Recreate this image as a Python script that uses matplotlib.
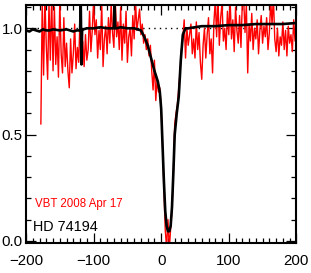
import numpy as np
import matplotlib
matplotlib.use("Agg")
import matplotlib.pyplot as plt
from matplotlib.ticker import MultipleLocator

# observed spectrum (red), sampled every 2 km/s from -178 to 200
obs_vel = np.arange(-178, 201, 2)
obs_flux = [
    0.55, 1.13, 0.78, 1.14, 0.92, 0.76, 1.12, 0.85, 1.15, 0.80,
    1.10, 0.83, 0.96, 0.77, 1.13, 0.88, 0.79, 1.05, 0.82, 0.93,
    0.80, 0.72, 0.95, 0.79, 0.88, 1.02, 0.81, 0.91, 0.84, 1.06,
    0.86, 0.94, 0.82, 0.97, 0.85, 0.90, 1.08, 0.89, 0.99, 1.13,
    0.97, 1.04, 0.86, 0.99, 0.90, 1.12, 0.82, 0.95, 1.01, 0.88,
    1.05, 0.93, 1.12, 0.98, 0.91, 1.14, 0.96, 1.03, 0.90, 1.10,
    0.85, 1.02, 0.93, 1.08, 0.84, 0.96, 1.00, 0.87, 1.06, 0.95,
    1.13, 0.99, 1.04, 1.09, 0.97, 1.02, 0.93, 0.97, 0.90, 0.95,
    0.87, 0.92, 0.80, 0.71, 0.85, 0.66, 0.76, 0.70, 0.72, 0.62,
    0.45, 0.25, 0.05, -0.03, 0.10, -0.04, 0.06, 0.15, 0.32, 0.55,
    0.60, 0.64, 0.72, 0.80, 0.90, 0.95, 1.04, 0.86, 1.00, 0.92,
    0.97, 1.02, 0.88, 0.95, 0.86, 1.03, 0.90, 0.98, 0.84, 0.76,
    0.92, 1.00, 0.86, 0.97, 1.05, 0.88, 0.95, 0.79, 1.03, 1.13,
    0.96, 1.14, 0.92, 1.05, 1.12, 0.94, 1.00, 0.90, 1.08, 0.97,
    1.13, 0.95, 1.04, 0.89, 1.10, 0.99, 0.93, 1.06, 0.91, 1.12,
    1.14, 0.98, 1.11, 0.79, 1.02, 0.94, 1.07, 0.90, 1.00, 0.95,
    1.04, 0.88, 0.99, 1.06, 0.93, 1.01, 0.96, 1.05, 0.90, 0.98,
    1.13, 1.02, 1.15, 0.95, 0.89, 1.00, 0.87, 0.96, 0.92, 1.03,
    0.90, 0.99, 0.87, 1.01, 0.93, 0.97, 0.89, 1.04, 0.94, 1.00,
]

# mean profile (black)
mean_vel = [-200, -195, -190, -185, -180, -175, -170, -165, -160,
            -150, -140, -130, -125, -120, -119, -118, -117, -115, -110,
            -100, -90, -80, -72, -70, -69, -68, -66, -60, -50,
            -40, -35, -30, -25, -20, -15, -10, -5, -2, 0,
            2, 4, 6, 8, 10, 12, 14, 16, 18, 20, 23, 26,
            29, 32, 36, 40, 50, 60, 80, 100, 120, 140,
            160, 180, 200]
mean_flux = [0.99, 0.985, 0.995, 0.99, 0.985, 0.995, 0.99, 0.99, 0.995,
             0.99, 0.995, 0.985, 0.99, 0.99, 1.12, 0.83, 0.99, 0.995, 1.0,
             1.0, 1.005, 1.0, 1.0, 1.0, 1.12, 1.0, 1.0, 1.005, 1.0,
             1.0, 0.995, 0.99, 0.96, 0.92, 0.86, 0.80, 0.75, 0.70, 0.62,
             0.45, 0.28, 0.14, 0.07, 0.045, 0.045, 0.07, 0.16, 0.32, 0.50, 0.60, 0.68,
             0.85, 0.97, 1.0, 1.0, 1.005, 1.01, 1.01, 1.015, 1.015, 1.02,
             1.02, 1.02, 1.025]

plt.rcParams['font.family'] = ['Liberation Sans', 'DejaVu Sans']

fig = plt.figure(figsize=(3.11, 2.73), dpi=100)
ax = fig.add_axes([0.0836, 0.11, 0.8694, 0.872])

ax.axhline(1.0, color='black', ls=(0, (1, 3)), lw=1.0)
ax.plot(obs_vel, obs_flux, color='red', lw=1.0)
ax.plot(mean_vel, mean_flux, color='black', lw=1.9)

ax.set_xlim(-200, 200)
ax.set_ylim(-0.01, 1.11)
ax.xaxis.set_major_locator(MultipleLocator(100))
ax.xaxis.set_minor_locator(MultipleLocator(10))
ax.yaxis.set_major_locator(MultipleLocator(0.5))
ax.yaxis.set_minor_locator(MultipleLocator(0.1))
ax.tick_params(which='both', direction='in', top=True, right=True, width=0.9)
ax.tick_params(which='major', length=7)
ax.tick_params(which='minor', length=3.5)
ax.tick_params(axis='x', labelsize=10.8, pad=8)
ax.tick_params(axis='y', labelsize=10.8, pad=2.5)
for s in ax.spines.values():
    s.set_linewidth(1.5)

ax.text(-187, 0.16, 'VBT 2008 Apr 17', color='red', fontsize=8.3)
ax.text(-190, 0.045, 'HD 74194', color='black', fontsize=10.4)

fig.savefig('out.png', dpi=100)
